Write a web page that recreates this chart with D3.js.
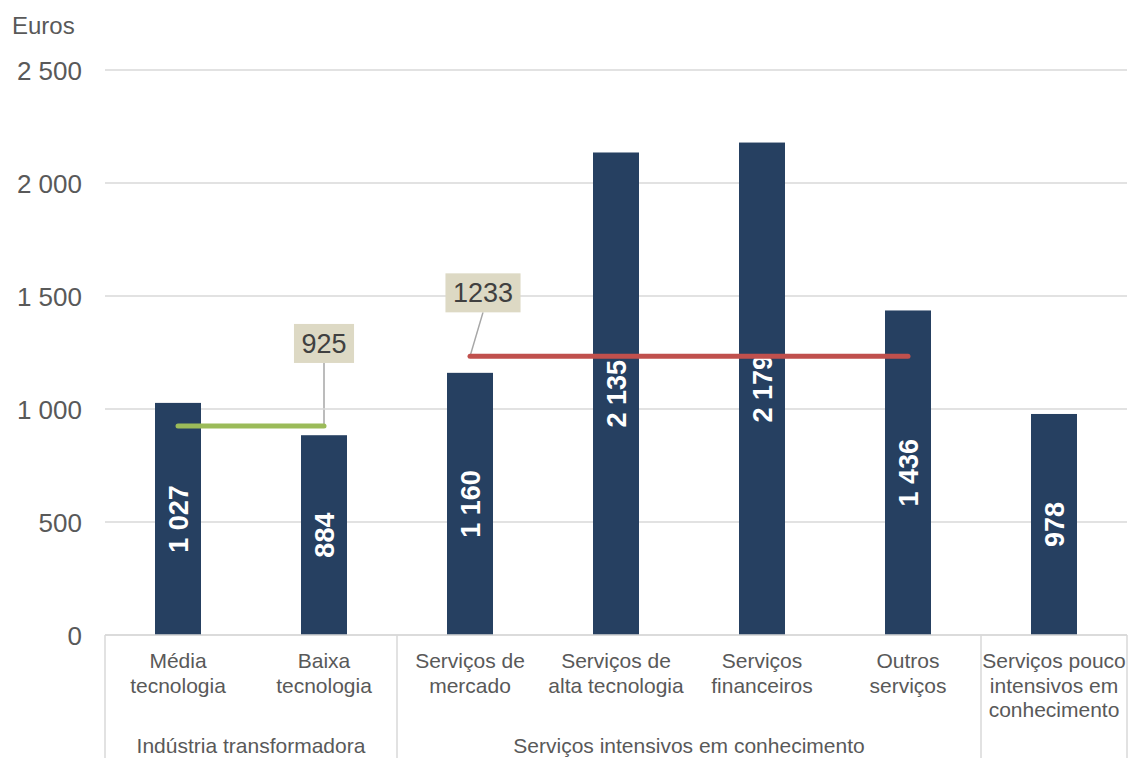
<!DOCTYPE html>
<html>
<head>
<meta charset="utf-8">
<script src="https://cdn.jsdelivr.net/npm/d3@7"></script>
<style>
    body { margin: 0; background: #fff; }
    text { font-family: "Liberation Sans", Arial, sans-serif; }
</style>
</head>
<body>
<script>
// Categories (each one split in its label lines)
var categories = ['Média tecnologia', 'Baixa tecnologia', 'Serviços de mercado', 'Serviços de alta tecnologia',
    'Serviços financeiros', 'Outros serviços', 'Serviços pouco intensivos em conhecimento'];
var categoryLines = [
    ['Média', 'tecnologia'],
    ['Baixa', 'tecnologia'],
    ['Serviços de', 'mercado'],
    ['Serviços de', 'alta tecnologia'],
    ['Serviços', 'financeiros'],
    ['Outros', 'serviços'],
    ['Serviços pouco', 'intensivos em', 'conhecimento']
];
var values = [1027, 884, 1160, 2135, 2179, 1436, 978];
var valueLabels = ['1 027', '884', '1 160', '2 135', '2 179', '1 436', '978'];

// Groups of categories
var groupNames = ['Indústria transformadora', 'Serviços intensivos em conhecimento', ''];
var groupSizes = [2, 4, 1];

// Group averages (line from first to last bar of the group)
var averageValues = [925, 1233];
var averageLabels = ['925', '1233'];
var averageGroups = [0, 1];
var averageColors = ['#9bbb59', '#c0504d'];

var yTicks = [0, 500, 1000, 1500, 2000, 2500];
var yTickLabels = ['0', '500', '1 000', '1 500', '2 000', '2 500'];

var width = 1131,
    height = 758,
    plot = { left: 105, right: 1127, top: 70, bottom: 635 };

var svg = d3.select('body').append('svg')
    .attr('width', width)
    .attr('height', height);

// Scale for x-axis
var xScale = d3.scaleBand()
    .domain(categories)
    .range([plot.left, plot.right])
    .paddingInner(0.685)
    .paddingOuter(0.3425);

// Scale for y-axis
var yScale = d3.scaleLinear().domain([0, 2500]).range([plot.bottom, plot.top]);

// group start indexes
var groupStart = [], acc = 0;
groupSizes.forEach(function (s) { groupStart.push(acc); acc += s; });

function bandEdge(i) {
    // left edge of step i
    return xScale(categories[i]) - xScale.step() * xScale.paddingOuter();
}

// Gridlines
svg.append('g').selectAll('line')
    .data(yTicks)
    .enter().append('line')
    .attr('x1', plot.left)
    .attr('x2', plot.right)
    .attr('y1', function (d) { return yScale(d); })
    .attr('y2', function (d) { return yScale(d); })
    .attr('stroke', '#d9d9d9')
    .attr('stroke-width', 1.5);

// Y tick labels
svg.append('g').selectAll('text')
    .data(yTicks)
    .enter().append('text')
    .attr('x', 82)
    .attr('y', function (d) { return yScale(d); })
    .attr('dy', '0.37em')
    .attr('text-anchor', 'end')
    .attr('fill', '#595959')
    .style('font-size', '26px')
    .text(function (d, i) { return yTickLabels[i]; });

svg.append('text')
    .attr('x', 12)
    .attr('y', 34)
    .attr('fill', '#595959')
    .style('font-size', '24px')
    .text('Euros');

// Bars
svg.append('g').selectAll('rect')
    .data(values)
    .enter().append('rect')
    .attr('x', function (d, i) { return xScale(categories[i]); })
    .attr('y', function (d) { return yScale(d); })
    .attr('width', xScale.bandwidth())
    .attr('height', function (d) { return yScale(0) - yScale(d); })
    .attr('fill', '#264061');

// Value labels, rotated inside bars
svg.append('g').selectAll('text')
    .data(values)
    .enter().append('text')
    .attr('transform', function (d, i) {
        var cx = xScale(categories[i]) + xScale.bandwidth() / 2;
        var cy = (yScale(d) + yScale(0)) / 2;
        return 'translate(' + cx + ',' + cy + ') rotate(-90)';
    })
    .attr('text-anchor', 'middle')
    .attr('dy', '0.36em')
    .attr('fill', '#ffffff')
    .style('font-size', '27px')
    .style('font-weight', 'bold')
    .text(function (d, i) { return valueLabels[i]; });

// Average lines
averageValues.forEach(function (v, k) {
    var g = averageGroups[k];
    var first = groupStart[g], last = groupStart[g] + groupSizes[g] - 1;
    var x1 = xScale(categories[first]) + xScale.bandwidth() / 2;
    var x2 = xScale(categories[last]) + xScale.bandwidth() / 2;
    var y = yScale(v);

    svg.append('line')
        .attr('x1', x1).attr('x2', x2)
        .attr('y1', y).attr('y2', y)
        .attr('stroke', averageColors[k])
        .attr('stroke-width', 5)
        .attr('stroke-linecap', 'round');

    // callout: first one above right end, second one above left end
    var ax = k == 0 ? x2 : x1;
    var bx = k == 0 ? x2 : x1 + 13;
    var by = k == 0 ? y - 83 : y - 64;
    var callout = svg.append('g');
    var txt = callout.append('text')
        .attr('x', bx)
        .attr('y', by)
        .attr('dy', '0.36em')
        .attr('text-anchor', 'middle')
        .attr('fill', '#404040')
        .style('font-size', '27px')
        .text(averageLabels[k]);
    var w = txt.node().getComputedTextLength() + 15;
    callout.insert('rect', 'text')
        .attr('x', bx - w / 2)
        .attr('y', by - 19)
        .attr('width', w)
        .attr('height', 39)
        .attr('fill', '#ddd9c4');
    svg.insert('line', 'g')
        .attr('x1', bx).attr('y1', by + 20)
        .attr('x2', ax).attr('y2', y)
        .attr('stroke', '#a6a6a6')
        .attr('stroke-width', 1.5);
    callout.raise();
});

// Category axis line and group separators
svg.append('line')
    .attr('x1', plot.left).attr('x2', plot.right)
    .attr('y1', plot.bottom).attr('y2', plot.bottom)
    .attr('stroke', '#d9d9d9')
    .attr('stroke-width', 1.5);

var separators = groupStart.map(function (s) { return bandEdge(s); }).concat([plot.right]);
svg.append('g').selectAll('line')
    .data(separators)
    .enter().append('line')
    .attr('x1', function (d) { return d; })
    .attr('x2', function (d) { return d; })
    .attr('y1', plot.bottom)
    .attr('y2', height)
    .attr('stroke', '#d9d9d9')
    .attr('stroke-width', 1.5);

// Category labels
var catText = svg.append('g').selectAll('text')
    .data(categoryLines)
    .enter().append('text')
    .attr('text-anchor', 'middle')
    .attr('fill', '#595959')
    .style('font-size', '21px');

catText.selectAll('tspan')
    .data(function (d, i) { return d.map(function (l) { return { line: l, i: i }; }); })
    .enter().append('tspan')
    .attr('x', function (d) { return xScale(categories[d.i]) + xScale.bandwidth() / 2; })
    .attr('y', function (d, j) { return 668 + j * 24.5; })
    .text(function (d) { return d.line; });

// Group labels
svg.append('g').selectAll('text')
    .data(groupNames)
    .enter().append('text')
    .attr('x', function (d, g) {
        var a = bandEdge(groupStart[g]);
        var b = separators[g + 1];
        return (a + b) / 2;
    })
    .attr('y', 753)
    .attr('text-anchor', 'middle')
    .attr('fill', '#595959')
    .style('font-size', '21px')
    .text(function (d) { return d; });
</script>
</body>
</html>
